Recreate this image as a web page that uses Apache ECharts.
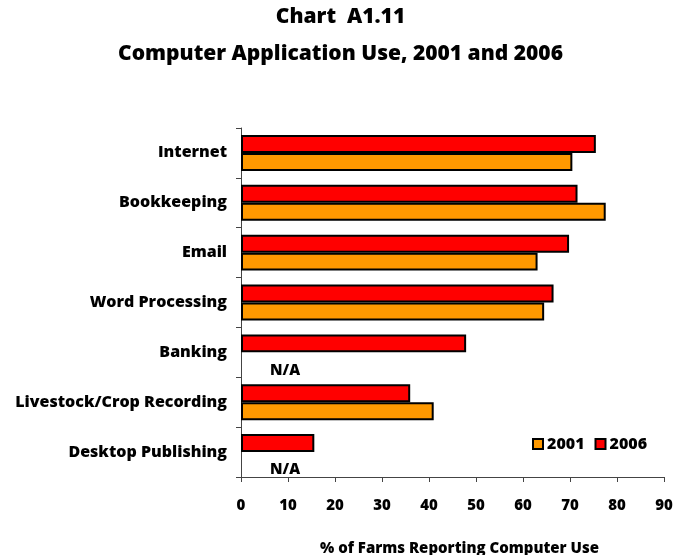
<!DOCTYPE html>
<html>
<head>
<meta charset="utf-8">
<script src="https://cdn.jsdelivr.net/npm/echarts@6/dist/echarts.min.js"></script>
<style>
  html, body { margin: 0; padding: 0; background: #fff; }
  #chart { width: 681px; height: 555px; }
</style>
</head>
<body>
<div id="chart"></div>
<script>
// Computer application use by farms, 2001 vs 2006 (% of farms reporting computer use)
const categories = ['Internet', 'Bookkeeping', 'Email', 'Word Processing', 'Banking', 'Livestock/Crop Recording', 'Desktop Publishing'];
const values2001 = [70.5, 77.6, 63.1, 64.5, null, 41.0, null];
const values2006 = [75.5, 71.6, 69.8, 66.5, 47.9, 36.0, 15.6];
const xTicks = [0, 10, 20, 30, 40, 50, 60, 70, 80, 90];

const FONT = 'Open Sans';
const W = 800;
const chart = echarts.init(document.getElementById('chart'));

// 2001 values: missing years are shown as "N/A" next to the axis
const data2001 = values2001.map(v => v == null
  ? { value: 0, itemStyle: { borderWidth: 0 },
      label: { show: true, formatter: 'N/A', position: 'insideLeft', offset: [24, 9],
               color: '#000', fontFamily: FONT, fontWeight: W, fontSize: 15 } }
  : v);

chart.setOption({
  animation: false,
  title: [
    { text: 'Chart  A1.11', left: 'center', top: 2,
      textStyle: { fontFamily: FONT, fontWeight: W, fontSize: 21, color: '#000' } },
    { text: 'Computer Application Use, 2001 and 2006', left: 'center', top: 39,
      textStyle: { fontFamily: FONT, fontWeight: W, fontSize: 21, color: '#000' } }
  ],
  legend: {
    data: ['2001', '2006'],
    left: 527, top: 431,
    icon: 'rect', itemWidth: 10, itemHeight: 10, itemGap: 10,
    textStyle: { fontFamily: FONT, fontWeight: W, fontSize: 16, color: '#000', padding: [0, 0, 0, -1] }
  },
  grid: { left: 241, right: 17, top: 128, bottom: 78, containLabel: false, outerBoundsMode: 'none' },
  xAxis: {
    type: 'value', min: 0, max: 90, interval: 10,
    name: '% of Farms Reporting Computer Use',
    nameLocation: 'middle', nameGap: 64,
    nameTextStyle: { fontFamily: FONT, fontWeight: W, fontSize: 15, color: '#000', padding: [0, 0, 0, 14] },
    axisLine: { show: true, lineStyle: { color: '#444', width: 1 } },
    axisTick: { show: true, length: 5, lineStyle: { color: '#444' } },
    axisLabel: { fontFamily: FONT, fontWeight: W, fontSize: 15, color: '#000', margin: 21,
                 formatter: v => xTicks.includes(v) ? String(v) : '' },
    splitLine: { show: false }
  },
  yAxis: {
    type: 'category', data: categories, inverse: true,
    axisLine: { show: true, lineStyle: { color: '#444', width: 1 } },
    axisTick: { show: true, length: 5, lineStyle: { color: '#444' } },
    axisLabel: { fontFamily: FONT, fontWeight: W, fontSize: 16, color: '#000', margin: 14 }
  },
  series: [
    { name: '2006', type: 'bar', data: values2006, barGap: '0%', barCategoryGap: '28%',
      itemStyle: { color: '#FF0000', borderColor: '#000', borderWidth: 2 } },
    { name: '2001', type: 'bar', data: data2001, barGap: '0%', barCategoryGap: '28%',
      itemStyle: { color: '#FF9900', borderColor: '#000', borderWidth: 2 } }
  ]
});
</script>
</body>
</html>
